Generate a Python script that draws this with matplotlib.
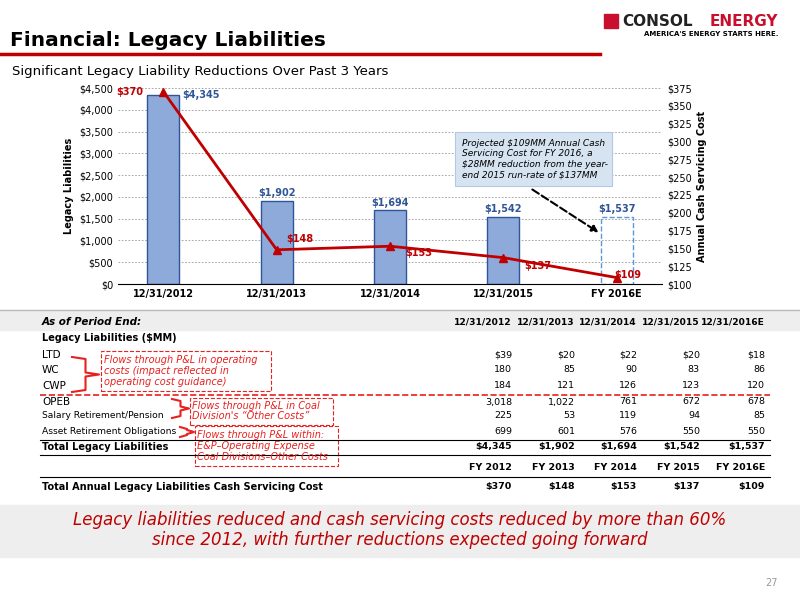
import numpy as np
import matplotlib.pyplot as plt
from matplotlib.patches import Rectangle

periods = ['12/31/2012', '12/31/2013', '12/31/2014', '12/31/2015', 'FY 2016E']
liabilities = [4345, 1902, 1694, 1542, 1537]
servicing = [370, 148, 153, 137, 109]

col_heads = ['12/31/2012', '12/31/2013', '12/31/2014', '12/31/2015', '12/31/2016E']
row_names = ['LTD', 'WC', 'CWP', 'OPEB', 'Salary Retirement/Pension', 'Asset Retirement Obligations']
rows = [
    ['$39', '$20', '$22', '$20', '$18'],
    ['180', '85', '90', '83', '86'],
    ['184', '121', '126', '123', '120'],
    ['3,018', '1,022', '761', '672', '678'],
    ['225', '53', '119', '94', '85'],
    ['699', '601', '576', '550', '550'],
]
totals = ['$4,345', '$1,902', '$1,694', '$1,542', '$1,537']
fy_heads = ['FY 2012', 'FY 2013', 'FY 2014', 'FY 2015', 'FY 2016E']
cost_row = ['$370', '$148', '$153', '$137', '$109']

fig = plt.figure(figsize=(8, 6), dpi=100)

def T(x, y, s, **kw):
    fig.text(x / 800, 1 - y / 600, s, **kw)

def pline(xs, ys, **kw):
    fig.add_artist(plt.Line2D([v / 800 for v in xs], [1 - v / 600 for v in ys], **kw))

def hline(x0, x1, y, **kw):
    pline([x0, x1], [y, y], **kw)

# header
T(10, 40, 'Financial: Legacy Liabilities', fontsize=14.5, fontweight='bold', va='center')
hline(0, 600, 54, color='#c00000', lw=2.5)
T(12, 72, 'Significant Legacy Liability Reductions Over Past 3 Years', fontsize=9.5, va='center')
fig.add_artist(Rectangle((604 / 800, 1 - 28 / 600), 14 / 800, 14 / 600, color='#c8102e'))
T(622, 21, 'CONSOL', fontsize=11, fontweight='bold', va='center', color='#222222')
T(778, 21, 'ENERGY', fontsize=11, fontweight='bold', va='center', ha='right', color='#c8102e')
T(778, 34, "AMERICA'S ENERGY STARTS HERE.", fontsize=5, fontweight='bold', va='center', ha='right')

# chart
ax = fig.add_axes([118 / 800, 1 - 284 / 600, 544 / 800, 196 / 600])
x = np.arange(len(periods))
for i, v in enumerate(liabilities):
    if i < len(liabilities) - 1:
        ax.bar(i, v, width=0.28, color='#8eaadb', edgecolor='#2f5597', lw=1, zorder=2)
    else:
        ax.bar(i, v, width=0.28, facecolor='none', edgecolor='#5b9bd5', lw=1, ls='--', zorder=2)
offs = [(0.33, 4345), (0, 2080), (0, 1870), (0, 1720), (0, 1720)]
for i, v in enumerate(liabilities):
    dx, yy = offs[i]
    ax.text(i + dx, yy, f'${v:,}', ha='center', va='center', fontsize=7, fontweight='bold', color='#2f5597')
ax.set_ylim(0, 4500)
ax.set_yticks(range(0, 4501, 500))
ax.set_yticklabels([f'${t:,}' for t in range(0, 4501, 500)], fontsize=7)
ax.set_xlim(-0.4, 4.4)
ax.set_xticks(x)
ax.set_xticklabels(periods, fontsize=7, fontweight='bold')
ax.set_ylabel('Legacy Liabilities', fontsize=7, fontweight='bold')
ax.grid(axis='y', color='#999999', ls=(0, (2, 2)), lw=0.6, zorder=0)
for s in ['top', 'right', 'left']:
    ax.spines[s].set_visible(False)
ax.tick_params(length=0)

ax2 = ax.twinx()
ax2.plot(x, servicing, color='#c00000', lw=2, marker='^', ms=6, zorder=3)
ax2.set_ylim(100, 375)
ax2.set_yticks(range(100, 376, 25))
ax2.set_yticklabels([f'${t}' for t in range(100, 376, 25)], fontsize=7)
ax2.set_ylabel('Annual Cash Servicing Cost', fontsize=7, fontweight='bold')
for s in ['top', 'right', 'left', 'bottom']:
    ax2.spines[s].set_visible(False)
ax2.tick_params(length=0)
loffs = [(-0.3, 370), (0.2, 163), (0.25, 143), (0.3, 125), (0.1, 113)]
for i, v in enumerate(servicing):
    dx, yy = loffs[i]
    ax2.text(i + dx, yy, f'${v}', ha='center', va='center', fontsize=7, fontweight='bold', color='#c00000')

# callout
fig.add_artist(Rectangle((455 / 800, 1 - 186 / 600), 157 / 800, 54 / 600,
                         facecolor='#d6e4f2', edgecolor='#b4c7e7', lw=0.8))
T(462, 159, 'Projected $109MM Annual Cash\nServicing Cost for FY 2016, a\n$28MM reduction from the year-\nend 2015 run-rate of $137MM',
  fontsize=6.5, style='italic', va='center', linespacing=1.2)
fig.add_artist(plt.Annotation('', xy=(601 / 800, 1 - 234 / 600), xytext=(530 / 800, 1 - 188 / 600),
                              xycoords='figure fraction',
                              arrowprops=dict(arrowstyle='-|>', ls='--', color='black', lw=1.5)))

# table
fig.add_artist(Rectangle((0, 1 - 330 / 600), 1, 20 / 600, color='#eeeeee'))
hline(0, 800, 310, color='#bbbbbb', lw=1)
cols_x = [512, 575, 637, 700, 765]
tf = 6.8
T(42, 322, 'As of Period End:', fontsize=7.5, fontweight='bold', style='italic', va='center')
for cx, h in zip(cols_x, col_heads):
    T(cx, 322, h, fontsize=6.6, fontweight='bold', ha='right', va='center')
T(42, 338, 'Legacy Liabilities ($MM)', fontsize=7, fontweight='bold', va='center')
ys = [355, 370, 386, 402, 416, 432]
for y, name, vals in zip(ys, row_names, rows):
    T(42, y, name, fontsize=7.5 if len(name) < 6 else 6.6, va='center')
    for cx, v in zip(cols_x, vals):
        T(cx, y, v, fontsize=tf, ha='right', va='center')
hline(40, 770, 395, color='#e8201e', lw=1.2, ls='--')
hline(40, 770, 440, color='black', lw=0.8)
T(42, 447, 'Total Legacy Liabilities', fontsize=7, fontweight='bold', va='center')
for cx, v in zip(cols_x, totals):
    T(cx, 447, v, fontsize=tf, fontweight='bold', ha='right', va='center')
hline(40, 770, 455, color='black', lw=0.8)
for cx, v in zip(cols_x, fy_heads):
    T(cx, 468, v, fontsize=tf, fontweight='bold', ha='right', va='center')
hline(40, 770, 477, color='black', lw=0.8)
T(42, 487, 'Total Annual Legacy Liabilities Cash Servicing Cost', fontsize=7, fontweight='bold', va='center')
for cx, v in zip(cols_x, cost_row):
    T(cx, 487, v, fontsize=tf, fontweight='bold', ha='right', va='center')

# red notes
red = '#e8201e'
def note_box(x0, y0, x1, y1):
    fig.add_artist(Rectangle((x0 / 800, 1 - y1 / 600), (x1 - x0) / 800, (y1 - y0) / 600,
                             facecolor='white', edgecolor=red, lw=0.8, ls='--'))
def brace(x0, y0, y1, x1):
    ym = (y0 + y1) / 2
    xm = (x0 + x1) / 2
    pline([x0, xm, xm, x1, xm, xm, x0], [y0, y0 + 2, ym - 2, ym, ym + 2, y1 - 2, y1], color=red, lw=1.5)

note_box(101, 351, 271, 391)
T(104, 371, 'Flows through P&L in operating\ncosts (impact reflected in\noperating cost guidance)',
  fontsize=7, style='italic', color=red, va='center', linespacing=1.1)
note_box(190, 398, 333, 425)
T(192, 411, "Flows through P&L in Coal\nDivision's \u201cOther Costs\u201d",
  fontsize=7, style='italic', color=red, va='center', linespacing=1.1)
note_box(195, 426, 338, 466)
T(197, 446, 'Flows through P&L within:\nE&P\u2013Operating Expense\nCoal Divisions\u2013Other Costs',
  fontsize=7, style='italic', color=red, va='center', linespacing=1.1)
brace(72, 357, 392, 99)
brace(172, 399, 418, 189)
brace(180, 427, 437, 194)

# bottom banner
fig.add_artist(Rectangle((0, 1 - 557 / 600), 1, 52 / 600, color='#eeeeee'))
T(400, 530, 'Legacy liabilities reduced and cash servicing costs reduced by more than 60%\nsince 2012, with further reductions expected going forward',
  fontsize=12, style='italic', color='#c00000', ha='center', va='center', linespacing=1.2)
T(778, 583, '27', fontsize=7, color='#999999', ha='right', va='center')

fig.savefig('out.png', dpi=100)
